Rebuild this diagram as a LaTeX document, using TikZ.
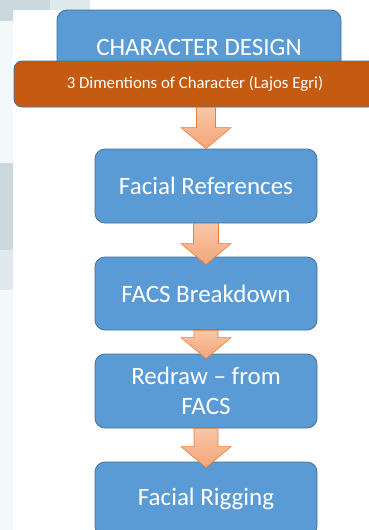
\documentclass[tikz,border=0pt]{standalone}
\usepackage{fontspec}
\setmainfont{Carlito}
\usetikzlibrary{calc}
\definecolor{boxblue}{HTML}{5B9BD5}
\definecolor{boxedge}{HTML}{41719C}
\definecolor{boxorange}{HTML}{C55A11}
\definecolor{arrtop}{HTML}{F8C7A8}
\definecolor{arrbot}{HTML}{F4A577}
\definecolor{arredge}{HTML}{ED7D31}
\definecolor{bgA}{HTML}{CBD8DD}
\definecolor{bgB}{HTML}{E0E9EC}
\definecolor{bgC}{HTML}{F3F9FA}
\tikzset{
  bluebox/.style={rectangle, rounded corners=10pt, fill=boxblue, draw=boxedge, line width=0.8pt,
    text=white, font=\fontsize{25}{30}\selectfont, align=center, minimum width=222pt, minimum height=74pt, inner sep=0pt},
  orangebox/.style={rectangle, rounded corners=8pt, fill=boxorange, draw=boxedge, line width=0.8pt,
    text=white, font=\fontsize{16.8}{20}\selectfont, minimum width=362pt, minimum height=46pt, inner sep=0pt},
  arrowfill/.style={top color=arrtop, bottom color=arrbot, draw=arredge, line width=0.6pt, line join=miter}
}
% #1 from node, #2 to node, #3 shaft half width, #4 tip depth into target
\newcommand\flowarrow[4]{%
  \path[arrowfill] let \p1=(#1.south), \p2=(#2.north) in
    ({\x2-#3},\y1) -- ({\x2+#3},\y1) -- ({\x2+#3},{\y2-#4+21pt}) -- ({\x2+25pt},{\y2-#4+21pt})
    -- (\x2,{\y2-#4}) -- ({\x2-25pt},{\y2-#4+21pt}) -- ({\x2-#3},{\y2-#4+21pt}) -- cycle;}
\begin{document}
\begin{tikzpicture}[x=1pt,y=-1pt]
\useasboundingbox (0,0) rectangle (369,530);
\clip (0,0) rectangle (369,530);
\fill[white] (0,0) rectangle (369,530);
% faint background fragments
\fill[bgA] (0,0) rectangle (50,10);
\fill[bgB] (50,0) rectangle (90,10);
\fill[bgA] (0,10) rectangle (13,21);
\fill[bgC] (0,21) rectangle (13,163);
\fill[bgA] (0,163) rectangle (13,250);
\fill[bgB] (0,250) rectangle (13,290);
\fill[bgC] (0,290) rectangle (13,530);
% boxes
\node[bluebox, minimum width=284pt] (design) at (199,47) {CHARACTER DESIGN};
\node[orangebox] (egri) at (195,84) {3 Dimentions of Character (Lajos Egri)};
\node[bluebox] (refs) at (206,186) {Facial References};
\node[bluebox, minimum height=73pt] (facs) at (206,293.5) {FACS Breakdown};
\node[bluebox] (redraw) at (206,391) {Redraw -- from\\FACS};
\node[bluebox] (rig) at (206,499) {Facial Rigging};
% arrows
\flowarrow{egri}{refs}{9.5pt}{0pt}
\flowarrow{refs}{facs}{12.5pt}{8pt}
\flowarrow{facs}{redraw}{12pt}{5pt}
\flowarrow{redraw}{rig}{12pt}{6pt}
\end{tikzpicture}
\end{document}
